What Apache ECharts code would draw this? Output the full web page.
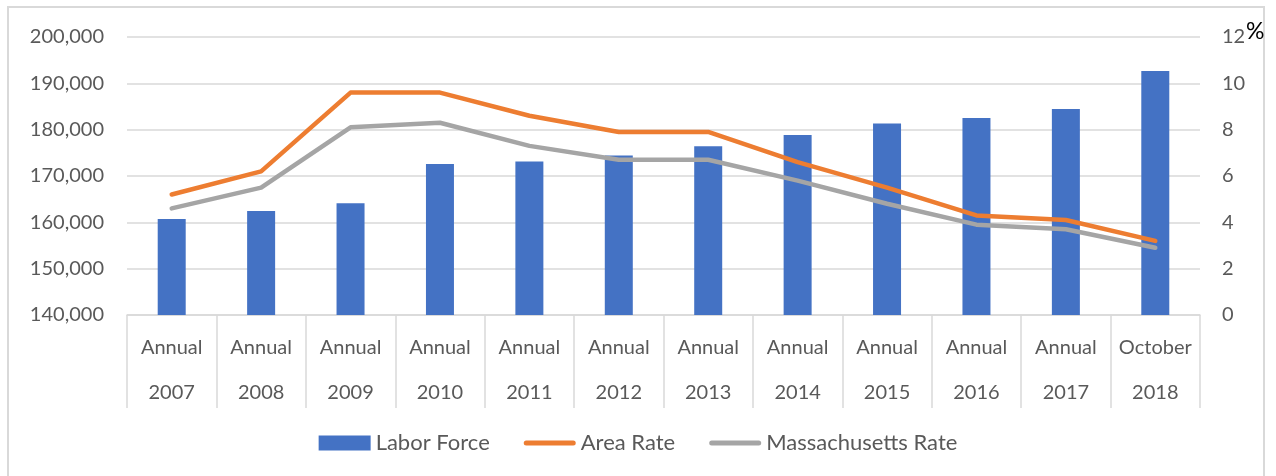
<!DOCTYPE html>
<html>
<head>
<meta charset="utf-8">
<script src="https://cdn.jsdelivr.net/npm/echarts@6/dist/echarts.min.js"></script>
<style>
  html, body { margin: 0; padding: 0; background: #fff; }
  #chart { width: 1276px; height: 476px; }
</style>
</head>
<body>
<div id="chart"></div>
<script>
// values
const periods = ['Annual', 'Annual', 'Annual', 'Annual', 'Annual', 'Annual',
  'Annual', 'Annual', 'Annual', 'Annual', 'Annual', 'October']
const years = ['2007', '2008', '2009', '2010', '2011', '2012',
  '2013', '2014', '2015', '2016', '2017', '2018']
const laborForce = [160700, 162450, 164100, 172600, 173150, 174400,
  176400, 178850, 181350, 182500, 184450, 192650]
const areaRate = [5.2, 6.2, 9.6, 9.6, 8.6, 7.9, 7.9, 6.6, 5.5, 4.3, 4.1, 3.2]
const maRate = [4.6, 5.5, 8.1, 8.3, 7.3, 6.7, 6.7, 5.8, 4.8, 3.9, 3.7, 2.9]

const categories = periods.map((p, i) => p + '\n' + years[i])

const font = 'Lato, "Liberation Sans", sans-serif'
const textColor = '#595959'
const gridColor = '#d9d9d9'
// rounded bar used as legend icon for the two line series
const lineIcon = 'path://M2.5,0 H49.5 A2.5,2.5 0 0 1 49.5,5 H2.5 A2.5,2.5 0 0 1 2.5,0 Z'

const chart = echarts.init(document.getElementById('chart'))
chart.setOption({
  animation: false,
  textStyle: { fontFamily: font },
  grid: { left: 127, right: 76, top: 37, bottom: 161, containLabel: false },
  graphic: [
    {
      type: 'rect',
      shape: { x: 8, y: 7, width: 1256, height: 490 },
      style: { fill: 'none', stroke: gridColor, lineWidth: 2 },
      silent: true
    },
    {
      type: 'text',
      left: 1246,
      top: 20,
      style: { text: '%', fontSize: 23, fill: '#000', fontFamily: font }
    }
  ],
  legend: {
    bottom: 17,
    left: 'center',
    itemWidth: 52,
    itemHeight: 15,
    itemGap: 34,
    textStyle: { fontSize: 22, color: textColor, fontFamily: font },
    data: [
      { name: 'Labor Force', icon: 'rect' },
      { name: 'Area Rate', icon: lineIcon },
      { name: 'Massachusetts Rate', icon: lineIcon }
    ]
  },
  xAxis: {
    type: 'category',
    data: categories,
    axisLine: { lineStyle: { color: gridColor, width: 1.5 } },
    axisTick: { show: true, interval: 0, length: 93, lineStyle: { color: gridColor, width: 1.5 } },
    axisLabel: {
      interval: 0,
      margin: 10,
      fontSize: 20,
      lineHeight: 45,
      color: textColor,
      fontFamily: font
    }
  },
  yAxis: [
    {
      type: 'value',
      min: 140000,
      max: 200000,
      interval: 10000,
      axisLine: { show: false },
      axisTick: { show: false },
      splitLine: { lineStyle: { color: gridColor, width: 1.5 } },
      axisLabel: {
        margin: 23,
        fontSize: 20,
        color: textColor,
        fontFamily: font,
        formatter: v => v.toLocaleString('en-US')
      }
    },
    {
      type: 'value',
      min: 0,
      max: 12,
      interval: 2,
      axisLine: { show: false },
      axisTick: { show: false },
      splitLine: { show: false },
      axisLabel: { margin: 22, fontSize: 20, color: textColor, fontFamily: font }
    }
  ],
  series: [
    {
      name: 'Labor Force',
      type: 'bar',
      barWidth: 28,
      itemStyle: { color: '#4472C4' },
      data: laborForce
    },
    {
      name: 'Area Rate',
      type: 'line',
      yAxisIndex: 1,
      symbol: 'none',
      lineStyle: { color: '#ED7D31', width: 4.5, cap: 'round', join: 'round' },
      itemStyle: { color: '#ED7D31' },
      data: areaRate
    },
    {
      name: 'Massachusetts Rate',
      type: 'line',
      yAxisIndex: 1,
      symbol: 'none',
      lineStyle: { color: '#A5A5A5', width: 4.5, cap: 'round', join: 'round' },
      itemStyle: { color: '#A5A5A5' },
      data: maRate
    }
  ]
})
</script>
</body>
</html>
